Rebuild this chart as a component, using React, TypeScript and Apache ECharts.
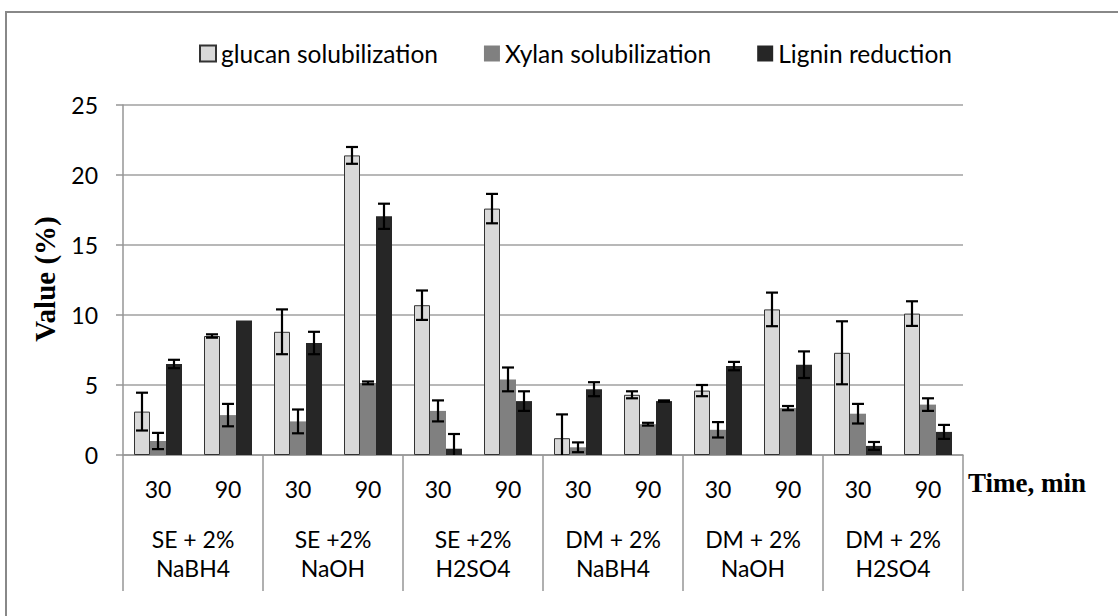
import React, { useEffect, useRef } from "react";
import * as echarts from "echarts";

const timeLabels = ["30", "90", "30", "90", "30", "90", "30", "90", "30", "90", "30", "90"];
const groupLabels = [
  "SE + 2%\nNaBH4",
  "SE +2%\nNaOH",
  "SE +2%\nH2SO4",
  "DM + 2%\nNaBH4",
  "DM + 2%\nNaOH",
  "DM + 2%\nH2SO4",
];
const seriesNames = ["glucan solubilization", "Xylan solubilization", "Lignin reduction"];

const glucan = [3.1, 8.5, 8.8, 21.4, 10.7, 17.6, 1.2, 4.3, 4.6, 10.4, 7.3, 10.1];
const glucanErr = [1.35, 0.12, 1.6, 0.6, 1.05, 1.05, 1.7, 0.25, 0.4, 1.2, 2.25, 0.88];
const xylan = [1.0, 2.85, 2.4, 5.15, 3.15, 5.4, 0.55, 2.2, 1.8, 3.35, 2.95, 3.6];
const xylanErr = [0.58, 0.8, 0.85, 0.1, 0.75, 0.85, 0.35, 0.1, 0.55, 0.15, 0.7, 0.45];
const lignin = [6.5, 9.6, 8.0, 17.05, 0.45, 3.85, 4.7, 3.85, 6.35, 6.45, 0.65, 1.65];
const ligninErr = [0.3, 0, 0.8, 0.9, 1.05, 0.7, 0.5, 0.05, 0.3, 0.95, 0.28, 0.5];

const yTicks = [0, 5, 10, 15, 20, 25];

const colors = ["#d9d9d9", "#808080", "#262626"];
const values = [glucan, xylan, lignin];
const errors = [glucanErr, xylanErr, ligninErr];

export default function App() {
  const ref = useRef<HTMLDivElement>(null);

  useEffect(() => {
    if (!ref.current) return;
    const chart = echarts.init(ref.current, undefined, { renderer: "svg" });
    const font = "Lato";
    const barW = 16;

    const barSeries = seriesNames.map((name, si) => ({
      name,
      type: "bar",
      xAxisIndex: 0,
      barWidth: barW,
      barGap: "0%",
      itemStyle: {
        color: colors[si],
        borderColor: si === 0 ? "#333333" : colors[si],
        borderWidth: si === 0 ? 1 : 0,
      },
      data: values[si],
      z: 2,
    }));

    const errSeries = seriesNames.map((name, si) => ({
      name: name + " err",
      type: "custom",
      xAxisIndex: 0,
      z: 5,
      silent: true,
      data: values[si].map((v, i) => [i, v, errors[si][i]]),
      renderItem: (params: any, api: any) => {
        const i = api.value(0);
        const v = api.value(1);
        const e = api.value(2);
        if (!e) return { type: "group", children: [] };
        const offset = (si - 1) * barW;
        const lowV = v - e;
        const top = api.coord([i, v + e]);
        const bot = api.coord([i, Math.max(0, lowV)]);
        const x = top[0] + offset;
        const cap = 6;
        const style = { stroke: "#000000", lineWidth: 2.2 };
        const children: any[] = [
          { type: "line", shape: { x1: x, y1: top[1], x2: x, y2: bot[1] }, style },
          { type: "line", shape: { x1: x - cap, y1: top[1], x2: x + cap, y2: top[1] }, style },
        ];
        if (lowV >= 0) {
          children.push({ type: "line", shape: { x1: x - cap, y1: bot[1], x2: x + cap, y2: bot[1] }, style });
        }
        return { type: "group", children };
      },
    }));

    chart.setOption({
      animation: false,
      backgroundColor: "#ffffff",
      textStyle: { fontFamily: font },
      legend: {
        data: seriesNames,
        left: 194,
        top: 36,
        itemWidth: 16,
        itemHeight: 16,
        itemGap: 46,
        icon: "rect",
        textStyle: { fontFamily: font, fontSize: 24.5, color: "#000000" },
      },
      grid: { left: 123, right: 155, top: 105, bottom: 161, containLabel: false },
      xAxis: [
        {
          type: "category",
          data: timeLabels,
          position: "bottom",
          axisLine: { lineStyle: { color: "#969696", width: 1.5 } },
          axisTick: { show: false },
          axisLabel: { fontFamily: font, fontSize: 23, color: "#000000", margin: 22, interval: 0 },
        },
        {
          type: "category",
          data: groupLabels,
          position: "bottom",
          axisLine: { show: false },
          axisTick: { show: true, length: 136, interval: 0, lineStyle: { color: "#969696", width: 1.5 } },
          axisLabel: {
            fontFamily: font,
            fontSize: 23,
            color: "#000000",
            margin: 69,
            lineHeight: 29,
            interval: 0,
          },
        },
      ],
      yAxis: {
        type: "value",
        min: yTicks[0],
        max: yTicks[yTicks.length - 1],
        interval: 5,
        axisLine: { show: true, lineStyle: { color: "#969696", width: 1.5 } },
        axisTick: { show: true, length: 7, lineStyle: { color: "#969696", width: 1.5 } },
        axisLabel: { fontFamily: font, fontSize: 23, color: "#000000", margin: 25 },
        splitLine: { lineStyle: { color: "#a0a0a0", width: 1.5 } },
      },
      graphic: [
        {
          type: "rect",
          shape: { x: 6, y: 12, width: 1200, height: 800 },
          style: { fill: "none", stroke: "#888888", lineWidth: 2 },
          silent: true,
        },
        {
          type: "text",
          x: 45,
          y: 279,
          rotation: Math.PI / 2,
          style: {
            text: "Value (%)",
            font: "bold 29px 'Liberation Serif', 'Times New Roman', serif",
            fill: "#000000",
            align: "center",
            verticalAlign: "middle",
          },
        },
        {
          type: "text",
          x: 968,
          y: 483,
          style: {
            text: "Time, min",
            font: "bold 27px 'Liberation Serif', 'Times New Roman', serif",
            fill: "#000000",
            align: "left",
            verticalAlign: "middle",
          },
        },
      ],
      series: [...barSeries, ...errSeries],
    });

    return () => chart.dispose();
  }, []);

  return (
    <div
      ref={ref}
      style={{ position: "fixed", left: 0, top: 0, width: 1118, height: 616 }}
    />
  );
}
